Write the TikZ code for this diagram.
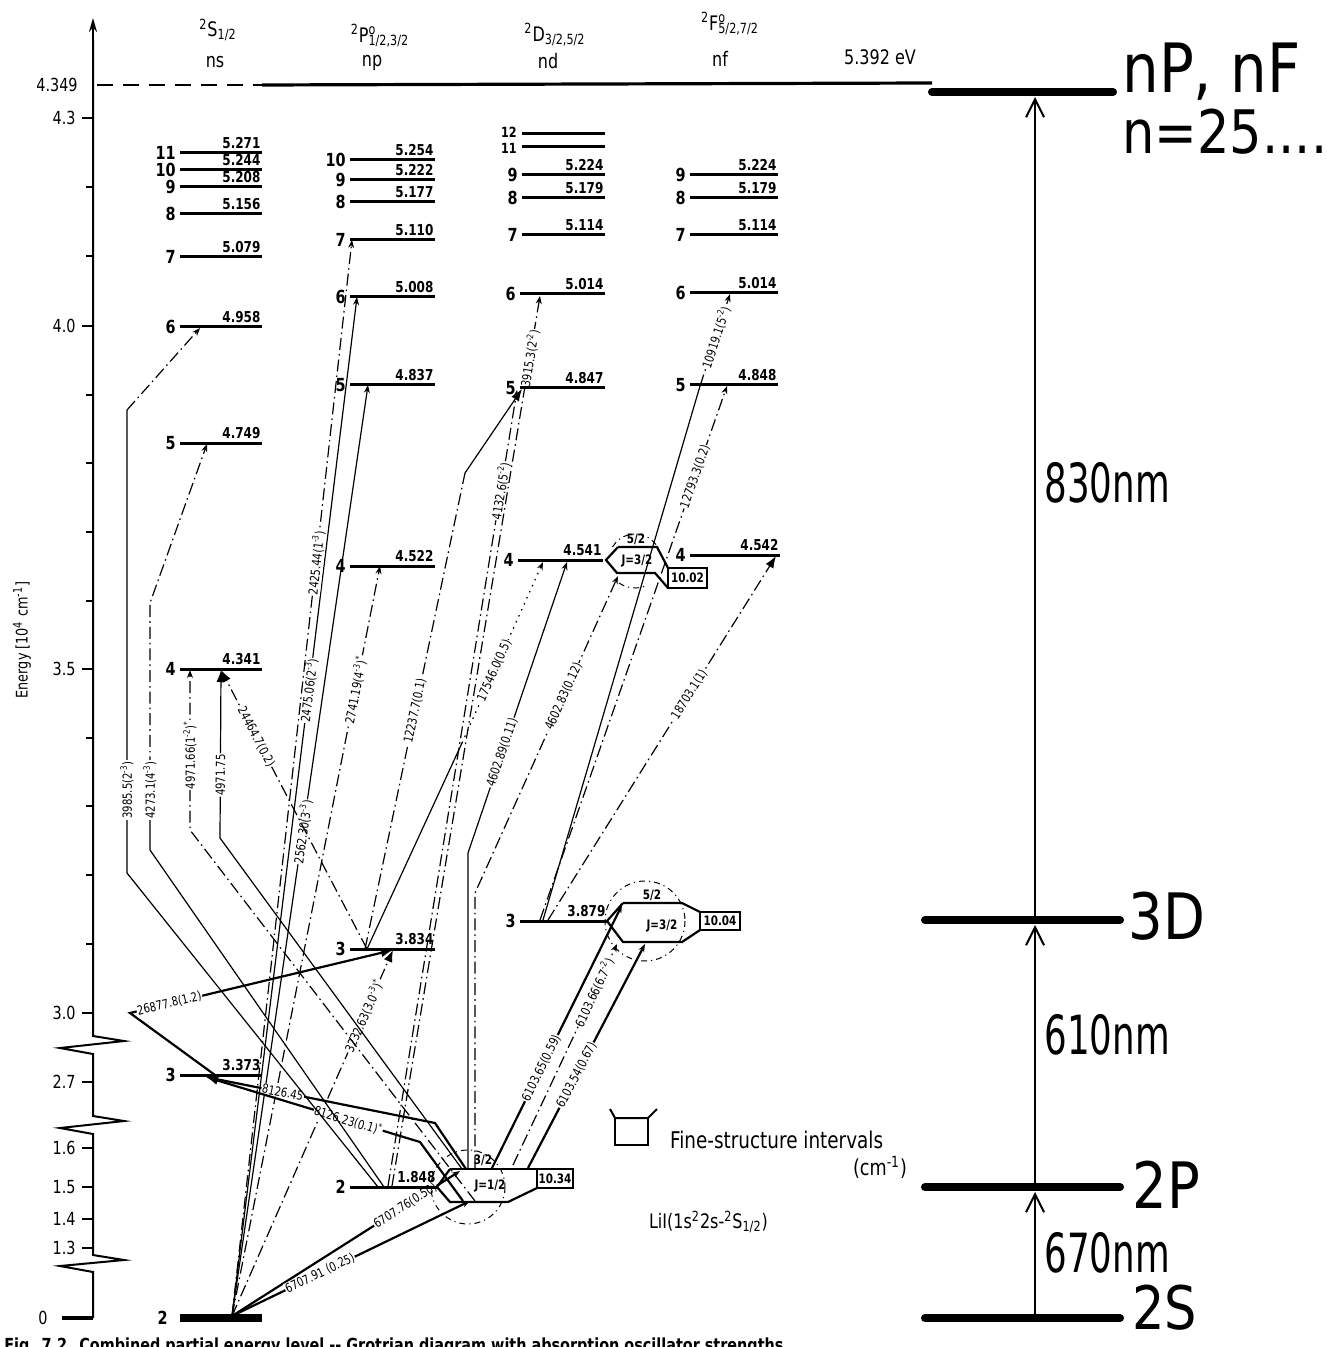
\documentclass[tikz,border=0pt]{standalone}
\usepackage{fontspec}
\setmainfont{DejaVu Sans}
\newfontfamily\cf[FakeStretch=0.8]{DejaVu Sans}
\newfontfamily\bigf[FakeStretch=0.85]{DejaVu Sans}
\newfontfamily\wlf[FakeStretch=0.66]{DejaVu Sans}
\usetikzlibrary{arrows.meta}
\tikzset{
  lev/.style={line width=1.5pt},
  gnd/.style={line width=4pt},
  bigl/.style={line width=4pt, line cap=round},
  tr/.style={line width=0.6pt},
  trk/.style={line width=1.1pt},
  dd/.style={dash pattern=on 6pt off 2pt on 0.8pt off 2pt},
  dotl/.style={dash pattern=on 0.8pt off 2.5pt},
  lb0/.style={fill=white, inner sep=0.4pt, font=\cf\fontsize{6.3}{6.5}\selectfont},
  lb/.style={lb0, sloped},
  num/.style={anchor=east, inner sep=1pt, font=\cf\bfseries\fontsize{9}{10}\selectfont},
  val/.style={anchor=south east, inner sep=0.6pt, font=\cf\bfseries\fontsize{7.5}{8}\selectfont},
  atip/.style={-{Latex[length=6pt,width=4.5pt]}},
  stip/.style={-{Stealth[length=4pt,width=3pt]}},
  circ/.style={line width=0.5pt, dash pattern=on 3pt off 2pt on 0.6pt off 2pt},
  fs/.style={line width=1.1pt, line join=miter},
  fsl/.style={inner sep=0.5pt, font=\cf\bfseries\fontsize{6.5}{7}\selectfont},
  ax/.style={line width=1pt},
  tkl/.style={anchor=east, inner sep=1pt, font=\cf\fontsize{9}{10}\selectfont},
  hd/.style={font=\cf\fontsize{10}{11}\selectfont},
  rarr/.style={line width=1pt, -{Straight Barb[length=9pt,width=9pt]}},
}
\newcommand\mklevel[6]{%
  \coordinate (#1L) at (#2,#4);
  \coordinate (#1R) at (#3,#4);
  \draw[lev] (#1L) -- (#1R);
  \node[num] (#1n) at (#2-2,#4) {#5};
  \node[val] (#1v) at (#3,#4-3) {#6};
}
\begin{document}
\begin{tikzpicture}[x=0.5pt,y=-0.5pt]
\useasboundingbox (0,0) rectangle (1326,1347);
\fill[white] (0,0) rectangle (1326,1347);

% ---------- axis ----------
\draw[ax] (93,1318) -- (93,1272) -- (60,1266) -- (124,1260) -- (93,1255) -- (93,1134) -- (60,1128) -- (124,1121) -- (93,1116) -- (93,1054) -- (60,1048) -- (124,1041) -- (93,1036) -- (93,40);
\draw[ax,-{Stealth[length=7pt,width=4pt]}] (93,45) -- (93,18);
\foreach \yy in {187,256,395,463,532,601,738,806,875,944} \draw[ax] (86,\yy) -- (93,\yy);
\foreach \yy/\tl in {118/4.3,326/4.0,669/3.5,1013/3.0,1082/2.7,1148/1.6,1187/1.5,1219/1.4,1248/1.3}
  {\draw[ax] (82,\yy) -- (93,\yy); \node[tkl] (tk\yy) at (78,\yy) {\tl};}
\draw[line width=1.6pt] (62,1318) -- (93,1318);
\node[tkl] (tk0) at (50,1318) {0};
\node[tkl] (tk4349) at (80,85) {4.349};
\node[rotate=90, font=\cf\fontsize{8}{9}\selectfont] (ylab) at (22,640) {Energy [10\textsuperscript{4} cm\textsuperscript{-1}]};

% ionisation limit
\draw[line width=1.2pt, dash pattern=on 8pt off 5pt] (97,85) -- (262,85);
\draw[line width=1.6pt] (262,85) -- (932,83);

% ---------- headers ----------
\node[hd] (hS) at (218,30) {\textsuperscript{2}S\textsubscript{1/2}};
\node[hd] (hs) at (215,62) {ns};
\node[hd] (hP) at (380,36) {\textsuperscript{2}P\rlap{\textsuperscript{o}}\textsubscript{1/2,3/2}};
\node[hd] (hp) at (372,63) {np};
\node[hd] (hD) at (555,35) {\textsuperscript{2}D\textsubscript{3/2,5/2}};
\node[hd] (hdd) at (548,61) {nd};
\node[hd] (hF) at (730,24) {\textsuperscript{2}F\rlap{\textsuperscript{o}}\textsubscript{5/2,7/2}};
\node[hd] (hf) at (720,59) {nf};
\node[hd] (hev) at (880,57) {5.392 eV};

% ---------- endpoints ----------
\coordinate (G) at (232,1316);
\coordinate (P2a) at (460,1171);
\coordinate (P2b) at (470,1201);
\coordinate (P3t) at (393,950);
\coordinate (P4t) at (380,566);
\coordinate (P5t) at (368,385);
\coordinate (P6t) at (357,297);
\coordinate (P7t) at (352,240);
\coordinate (S3a) at (206,1077);
\coordinate (S3b) at (215,1075);
\coordinate (S4a) at (221,670);
\coordinate (S4b) at (190,670);
\coordinate (S5a) at (207,444);
\coordinate (S6a) at (200,328);
\coordinate (P3s) at (367,949);

% ---------- transitions ----------
\draw[trk,stip] (G) -- (P2a) node[lb,pos=0.76] (l1) {6707.76(0.50)};
\draw[trk,stip] (G) -- (P2b) node[lb,pos=0.37] (l2) {6707.91 (0.25)};
\draw[tr,dd,atip] (G) -- (P3t) node[lb,pos=0.82] (l3) {3232.63(3.0\textsuperscript{-3})\textsuperscript{*}};
\draw[tr,dd,stip] (G) -- (P4t) node[lb,pos=0.835] (l4) {2741.19(4\textsuperscript{-3})\textsuperscript{*}};
\draw[tr,stip] (G) -- (P5t) node[lb,pos=0.52] (l5) {2562.30(3\textsuperscript{-3})};
\draw[tr,stip] (G) -- (P6t) node[lb,pos=0.614] (l6) {2475.06(2\textsuperscript{-3})};
\draw[tr,dd,stip] (G) -- (P7t) node[lb,pos=0.70] (l7) {2425.44(1\textsuperscript{-3})};

\draw[trk,atip] (466,1169) -- (435,1123) -- (S3a) node[lb,pos=0.665] (l8) {8126.45};
\draw[trk,atip] (463,1201) -- (420,1142) -- (S3a) node[lb,pos=0.335] (l9) {8126.23(0.1)\textsuperscript{*}};
\draw[tr,atip] (462,1169) -- (220,838) -- (S4a) node[lb,pos=0.375] (l10) {4971.75};
\draw[tr,dd,stip] (475,1201) -- (190,830) -- (S4b) node[lb,pos=0.47] (l11) {4971.66(1\textsuperscript{-2})\textsuperscript{*}};
\draw[tr] (384,1187) -- (150,850) -- (150,790);
\draw[tr,dd,stip] (150,790) -- (150,603) -- (S5a);
\node[lb0,rotate=90] (l12) at (150,790) {4273.1(4\textsuperscript{-3})};
\draw[tr] (378,1187) -- (127,873) -- (127,410);
\draw[tr,dd,stip] (127,410) -- (S6a);
\node[lb0,rotate=90] (l13) at (127,790) {3985.5(2\textsuperscript{-3})};

\draw[trk,atip] (S3b) -- (130,1013) -- (P3t) node[lb,pos=0.15] (l14) {26877.8(1.2)};
\draw[tr,dd,atip] (P3s) -- (S4a) node[lb,pos=0.76] (l15) {24464.7(0.2)};
\draw[tr,dd] (365,949) -- (465,473) node[lb,pos=0.5] (l16) {12237.7(0.1)};
\draw[tr,atip] (465,473) -- (522,389);
\draw[tr] (P3s) -- (462,743);
\draw[tr,dotl,stip] (462,743) -- (543,562) node[lb,pos=0.4] (l17) {17546.0(0.5)};

\draw[tr,stip] (468,1168) -- (468,853) -- (567,562) node[lb,pos=0.345] (l18) {4602.89(0.11)};
\draw[tr,dd,stip] (475,1168) -- (475,893) -- (618,576) node[lb,pos=0.62] (l19) {4602.83(0.12)};
\draw[tr,dd,stip] (388,1186) -- (517,390) node[lb,pos=0.873] (l20) {4132.6(5\textsuperscript{-2})};
\draw[tr,dd,stip] (392,1186) -- (540,296) node[lb,pos=0.93] (l21) {3915.3(2\textsuperscript{-2})};

\draw[trk,stip] (492,1168) -- (622,905) node[lb,pos=0.38] (l22) {6103.65(0.59)};
\draw[tr,dd,stip] (513,1165) -- (617,944) node[lb,pos=0.78] (l23) {6103.66(6.7\textsuperscript{-2})};
\draw[trk,stip] (528,1168) -- (645,944) node[lb,pos=0.415] (l24) {6103.54(0.67)};

\draw[tr,dd,atip] (548,920) -- (776,556) node[lb,pos=0.62] (l25) {18703.1(1)};
\draw[tr,dd,stip] (540,920) -- (727,386) node[lb,pos=0.83] (l26) {12793.3(0.2)};
\draw[tr] (543,920) -- (700,386);
\draw[tr,dd,stip] (700,386) -- (730,294) node[lb,pos=0.53] (l27) {10919.1(5\textsuperscript{-2})};

% ---------- levels ----------
\mklevel{sA}{180}{262}{153}{11}{5.271}
\mklevel{sB}{180}{262}{170}{10}{5.244}
\mklevel{s9}{180}{262}{187}{9}{5.208}
\mklevel{s8}{180}{262}{214}{8}{5.156}
\mklevel{s7}{180}{262}{257}{7}{5.079}
\mklevel{s6}{180}{262}{327}{6}{4.958}
\mklevel{s5}{180}{262}{443}{5}{4.749}
\mklevel{s4}{180}{262}{669}{4}{4.341}
\mklevel{s3}{180}{262}{1075}{3}{3.373}
\draw[gnd] (180,1318) -- (262,1318);
\node[num] (s2n) at (170,1318) {2};

\mklevel{pA}{350}{435}{160}{10}{5.254}
\mklevel{p9}{350}{435}{180}{9}{5.222}
\mklevel{p8}{350}{435}{202}{8}{5.177}
\mklevel{p7}{350}{435}{240}{7}{5.110}
\mklevel{p6}{350}{435}{297}{6}{5.008}
\mklevel{p5}{350}{435}{385}{5}{4.837}
\mklevel{p4}{350}{435}{566}{4}{4.522}
\mklevel{p3}{350}{435}{949}{3}{3.834}
\mklevel{p2}{350}{437}{1187}{2}{1.848}

\coordinate (dCL) at (522,134); \coordinate (dCR) at (605,134);
\draw[lev] (dCL) -- (dCR);
\node[num, font=\cf\bfseries\fontsize{7}{7}\selectfont] (dCn) at (519,132) {12};
\coordinate (dBL) at (522,147); \coordinate (dBR) at (605,147);
\draw[lev] (dBL) -- (dBR);
\node[num, font=\cf\bfseries\fontsize{7}{7}\selectfont] (dBn) at (519,148) {11};
\mklevel{d9}{522}{605}{175}{9}{5.224}
\mklevel{d8}{522}{605}{198}{8}{5.179}
\mklevel{d7}{522}{605}{235}{7}{5.114}
\mklevel{d6}{520}{605}{294}{6}{5.014}
\mklevel{d5}{520}{605}{388}{5}{4.847}
\mklevel{d4}{518}{603}{560}{4}{4.541}
\mklevel{d3}{520}{607}{921}{3}{3.879}

\mklevel{f9}{690}{778}{175}{9}{5.224}
\mklevel{f8}{690}{778}{198}{8}{5.179}
\mklevel{f7}{690}{778}{235}{7}{5.114}
\mklevel{f6}{690}{778}{293}{6}{5.014}
\mklevel{f5}{690}{778}{385}{5}{4.848}
\mklevel{f4}{690}{780}{555}{4}{4.542}

% ---------- fine structure: 2p ----------
\draw[fs] (450,1169) -- (437,1187) -- (450,1202) -- (508,1202) -- (537,1188);
\draw[fs] (450,1169) -- (537,1169);
\draw[line width=1pt] (537,1169) rectangle (573,1188);
\node[fsl] (b34) at (555,1178.5) {10.34};
\node[fsl] (j2a) at (483,1160) {3/2};
\node[fsl] (j2b) at (490,1186) {J=1/2};
\draw[circ] (468,1187) circle[radius=37];

% ---------- fine structure: 3d ----------
\draw[fs] (623,903) -- (607,921) -- (623,942) -- (682,942) -- (700,930);
\draw[fs] (623,903) -- (682,903) -- (700,912);
\draw[line width=1pt] (700,912) rectangle (740,930);
\node[fsl] (b04) at (720,921) {10.04};
\node[fsl] (j3a) at (652,895) {5/2};
\node[fsl] (j3b) at (662,926) {J=3/2};
\draw[circ] (645,921) circle[radius=40];

% ---------- fine structure: 4d ----------
\draw[fs] (618,547) -- (606,560) -- (617,573) -- (655,573) -- (668,588);
\draw[fs] (618,547) -- (657,547) -- (668,568);
\draw[line width=1pt] (668,568) rectangle (707,588);
\node[fsl] (b02) at (687.5,578) {10.02};
\node[fsl] (j4a) at (636,539) {5/2};
\node[fsl] (j4b) at (637,561) {J=3/2};
\draw[circ] (635,560) ++(-150:26) arc[start angle=-150, end angle=-30, radius=26];
\draw[circ] (635,560) ++(125:28) arc[start angle=125, end angle=65, radius=28];

% ---------- legend ----------
\draw[line width=1pt] (610,1109) -- (615,1118) -- (648,1118) -- (657,1109);
\draw[line width=1pt] (615,1118) -- (615,1145) -- (648,1145) -- (648,1118);
\node[anchor=west, font=\cf\fontsize{11.5}{12}\selectfont] (fsi) at (663,1140) {Fine-structure intervals};
\node[anchor=east, font=\cf\fontsize{11}{12}\selectfont] (cmu) at (914,1167) {(cm\textsuperscript{-1})};
\node[anchor=west, font=\cf\fontsize{10}{11}\selectfont] (lii) at (642,1222) {LiI(1s\textsuperscript{2}2s-\textsuperscript{2}S\textsubscript{1/2})};

% ---------- right-hand scheme ----------
\coordinate (RnP) at (1035,92);
\coordinate (R3D) at (1035,920);
\coordinate (R2P) at (1035,1187);
\coordinate (R2S) at (1035,1318);
\draw[bigl] (932,92) -- (1113,92);
\draw[bigl] (925,920) -- (1120,920);
\draw[bigl] (925,1187) -- (1120,1187);
\draw[bigl] (925,1318) -- (1120,1318);
\draw[rarr] ([yshift=2pt]R2S) -- ([yshift=-2.5pt]R2P);
\draw[rarr] ([yshift=2pt]R2P) -- ([yshift=-2.5pt]R3D);
\draw[rarr] ([yshift=2pt]R3D) -- ([yshift=-2.5pt]RnP);
\node[anchor=west, inner sep=0pt, font=\bigf\fontsize{34}{34}\selectfont] (tnp) at (1122,72) {nP, nF};
\node[anchor=west, inner sep=0pt, font=\bigf\fontsize{30}{30}\selectfont] (tn) at (1122,132) {n=25....3};
\node[anchor=west, inner sep=0pt, font=\bigf\fontsize{32}{32}\selectfont] (t3d) at (1128,916) {3D};
\node[anchor=west, inner sep=0pt, font=\bigf\fontsize{32}{32}\selectfont] (t2p) at (1132,1185) {2P};
\node[anchor=west, inner sep=0pt, font=\bigf\fontsize{30}{30}\selectfont] (t2s) at (1132,1308) {2S};
\node[anchor=west, inner sep=0pt, font=\wlf\fontsize{27}{27}\selectfont] (w830) at (1044,483) {830nm};
\node[anchor=west, inner sep=0pt, font=\wlf\fontsize{27}{27}\selectfont] (w610) at (1044,1035) {610nm};
\node[anchor=west, inner sep=0pt, font=\wlf\fontsize{27}{27}\selectfont] (w670) at (1044,1253) {670nm};

% ---------- caption (cut by the page edge, as in the reference) ----------
\node[anchor=north west, inner sep=0pt, font=\cf\bfseries\fontsize{9}{10}\selectfont] (cap) at (4,1337) {Fig. 7.2. Combined partial energy level -- Grotrian diagram with absorption oscillator strengths};
\end{tikzpicture}
\end{document}
